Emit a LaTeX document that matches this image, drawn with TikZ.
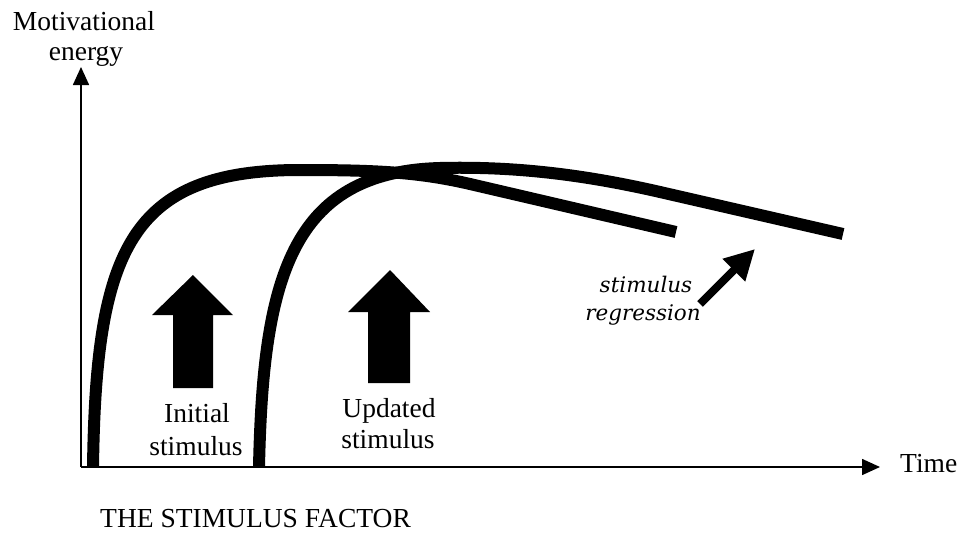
\documentclass[tikz,border=0pt]{standalone}
\usepackage{fontspec}
\setmainfont{Liberation Serif}
\newfontfamily\regfont{DejaVu Serif}
\usetikzlibrary{arrows.meta}

\begin{document}
\begin{tikzpicture}[x=1pt,y=-1pt,
  axis/.style={line width=1.6pt, -{Triangle[length=18pt,width=16pt]}},
  response/.style={line width=12pt, line cap=butt},
  blockarrow/.style={fill=black},
  lbl/.style={font=\fontsize{27.5}{31}\selectfont, inner sep=0pt, anchor=base},
  ital/.style={font=\regfont\itshape\fontsize{21.5}{24}\selectfont, inner sep=0pt, anchor=base},
  cue/.style={line width=8pt, -{Triangle[length=30pt,width=30pt]}}
]
\useasboundingbox (0,0) rectangle (958,535);

% axes
\coordinate (O) at (81,467);
\coordinate (ytop) at (81,67);
\coordinate (xend) at (880,467);
\draw[axis] (O) -- (ytop);
\draw[axis] (O) -- (xend);

% axis labels and title
\node[lbl] (mot) at (84,31) {Motivational};
\node[lbl] (energy) at (86,61) {energy};
\node[lbl, anchor=base west] (time) at (900,472) {Time};
\node[lbl, anchor=base west] (title) at (100,527) {THE STIMULUS FACTOR};

% response to the initial stimulus
\draw[response] (93,467) .. controls (96,250) and (130,170) .. (300,170)
  .. controls (380,170) and (420,172.5) .. (470,184) -- (676,232);
% response to the updated stimulus
\draw[response] (259,467) .. controls (263,280) and (290,172) .. (440,168)
  .. controls (520,166) and (590,176) .. (660,192) -- (843,234);

% stimulus arrows
\fill[blockarrow] (173,388) -- (173,315) -- (152,315) -- (193,275) -- (233,315) -- (213,315) -- (213,388) -- cycle;
\fill[blockarrow] (368,383) -- (368,312) -- (348,312) -- (390,270) -- (430,312) -- (410,312) -- (410,383) -- cycle;

\node[lbl] (init1) at (197,422) {Initial};
\node[lbl] (init2) at (196,455) {stimulus};
\node[lbl] (upd1) at (389,417) {Updated};
\node[lbl] (upd2) at (388,448) {stimulus};

% regression note
\node[ital] (reg1) at (646,292) {stimulus};
\node[ital] (reg2) at (643,320) {regression};
\coordinate (cueS) at (700,304);
\coordinate (cueE) at (755,249);
\draw[cue] (cueS) -- (cueE);
\end{tikzpicture}
\end{document}
